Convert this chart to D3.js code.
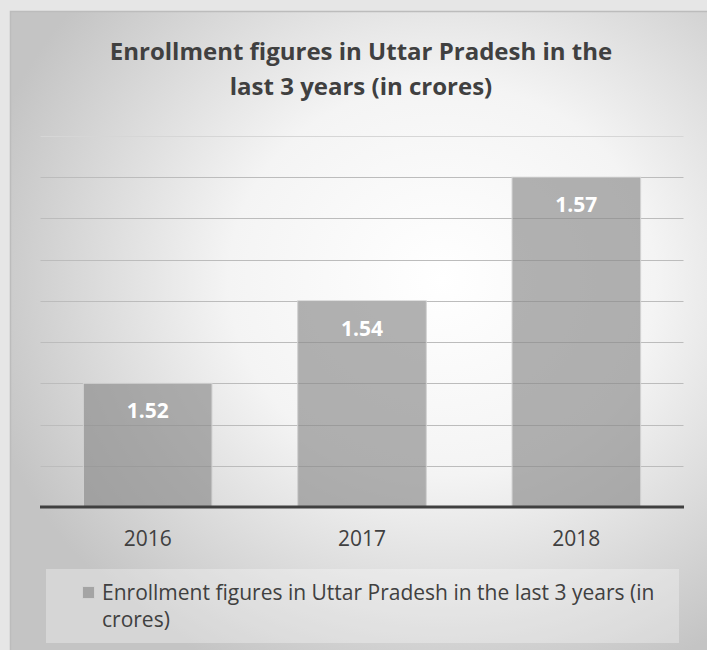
<!DOCTYPE html>
<html>
<head>
<meta charset="utf-8">
<script src="https://cdn.jsdelivr.net/npm/d3@7"></script>
<style>
	body { margin: 0; background: #e6e6e6; }
	svg { display: block; font-family: "Open Sans", sans-serif; }
</style>
</head>
<body>
<div id="chart"></div>
<script>
const years = ["2016", "2017", "2018"];
const enrollment = [1.52, 1.54, 1.57];
const yDomain = [1.49, 1.58];
const gridTicks = [1.49, 1.50, 1.51, 1.52, 1.53, 1.54, 1.55, 1.56, 1.57, 1.58];
const titleLines = ["Enrollment figures in Uttar Pradesh in the", "last 3 years (in crores)"];
const legendLines = ["Enrollment figures in Uttar Pradesh in the last 3 years (in", "crores)"];

const params = { width: 707, height: 650, left: 40.5, right: 683.5, top: 136, bottom: 507 };

const svg = d3.select("#chart").append("svg")
	.attr("width", params.width)
	.attr("height", params.height)

// background gradient for the chart panel
const defs = svg.append("defs")
const grad = defs.append("radialGradient")
	.attr("id", "panelGrad")
	.attr("cx", "62%").attr("cy", "42%").attr("r", "68%")
grad.append("stop").attr("offset", "0%").attr("stop-color", "#ffffff")
grad.append("stop").attr("offset", "45%").attr("stop-color", "#f4f4f4")
grad.append("stop").attr("offset", "100%").attr("stop-color", "#c4c4c4")

svg.append("rect")
	.attr("x", 10).attr("y", 11)
	.attr("width", params.width - 10).attr("height", params.height - 11)
	.attr("fill", "url(#panelGrad)")
svg.append("path")
	.attr("d", `M10.5,${params.height} V11.5 H${params.width}`)
	.attr("fill", "none").attr("stroke", "#bcbcbc").attr("stroke-width", 1.5)

// title
svg.append("g").selectAll("text")
	.data(titleLines)
	.join("text")
	.attr("x", 361)
	.attr("y", (d, i) => 60 + i * 35)
	.attr("text-anchor", "middle")
	.attr("font-size", "24px")
	.attr("font-weight", "bold")
	.attr("fill", "#404040")
	.text(d => d)

// scales
const xScale = d3.scaleBand()
	.domain(years)
	.range([params.left, params.right])
	.paddingInner(0.4)
	.paddingOuter(0.2)

const yScale = d3.scaleLinear()
	.domain(yDomain)
	.range([params.bottom, params.top])

// gridlines
svg.append("g")
	.selectAll("line")
	.data(gridTicks.slice(1))
	.join("line")
	.attr("x1", params.left)
	.attr("x2", params.right)
	.attr("y1", d => Math.round(yScale(d)) + 0.5)
	.attr("y2", d => Math.round(yScale(d)) + 0.5)
	.attr("stroke", (d, i) => i == gridTicks.length - 2 ? "#d6d6d6" : "#bcbcbc")
	.attr("stroke-width", 1.2)

// bars
svg.append("g")
	.selectAll("rect")
	.data(enrollment)
	.join("rect")
	.attr("x", (d, i) => xScale(years[i]))
	.attr("y", d => yScale(d))
	.attr("width", xScale.bandwidth())
	.attr("height", d => yScale(yDomain[0]) - yScale(d))
	.attr("fill", "rgb(138,138,138)")
	.attr("fill-opacity", 0.66)
	.attr("stroke", "#d2d2d2")
	.attr("stroke-width", 1)

// value labels
svg.append("g")
	.selectAll("text")
	.data(enrollment)
	.join("text")
	.attr("x", (d, i) => xScale(years[i]) + xScale.bandwidth() / 2)
	.attr("y", d => yScale(d) + 35)
	.attr("text-anchor", "middle")
	.attr("font-size", "21px")
	.attr("font-weight", "bold")
	.attr("fill", "#ffffff")
	.text(d => d.toFixed(2))

// x axis
const xAxis = svg.append("g")
	.attr("transform", `translate(0, ${params.bottom})`)
	.call(d3.axisBottom(xScale).tickSize(0).tickPadding(24))
xAxis.select(".domain").remove()
xAxis.selectAll("text")
	.attr("font-family", "Open Sans")
	.attr("font-size", "21px")
	.attr("fill", "#404040")
svg.append("line")
	.attr("x1", params.left - 0.5).attr("x2", params.right + 0.5)
	.attr("y1", params.bottom).attr("y2", params.bottom)
	.attr("stroke", "#404040").attr("stroke-width", 3)

// legend
const legend = svg.append("g")
legend.append("rect")
	.attr("x", 46).attr("y", 569)
	.attr("width", 633).attr("height", 74)
	.attr("fill", "#ffffff").attr("fill-opacity", 0.3)
legend.append("rect")
	.attr("x", 82.5).attr("y", 586.5)
	.attr("width", 12).attr("height", 12)
	.attr("fill", "rgb(138,138,138)").attr("fill-opacity", 0.66)
	.attr("stroke", "#d2d2d2")
legend.selectAll("text")
	.data(legendLines)
	.join("text")
	.attr("x", 102)
	.attr("y", (d, i) => 600 + i * 27)
	.attr("font-size", "21px")
	.attr("fill", "#404040")
	.text(d => d)
</script>
</body>
</html>
